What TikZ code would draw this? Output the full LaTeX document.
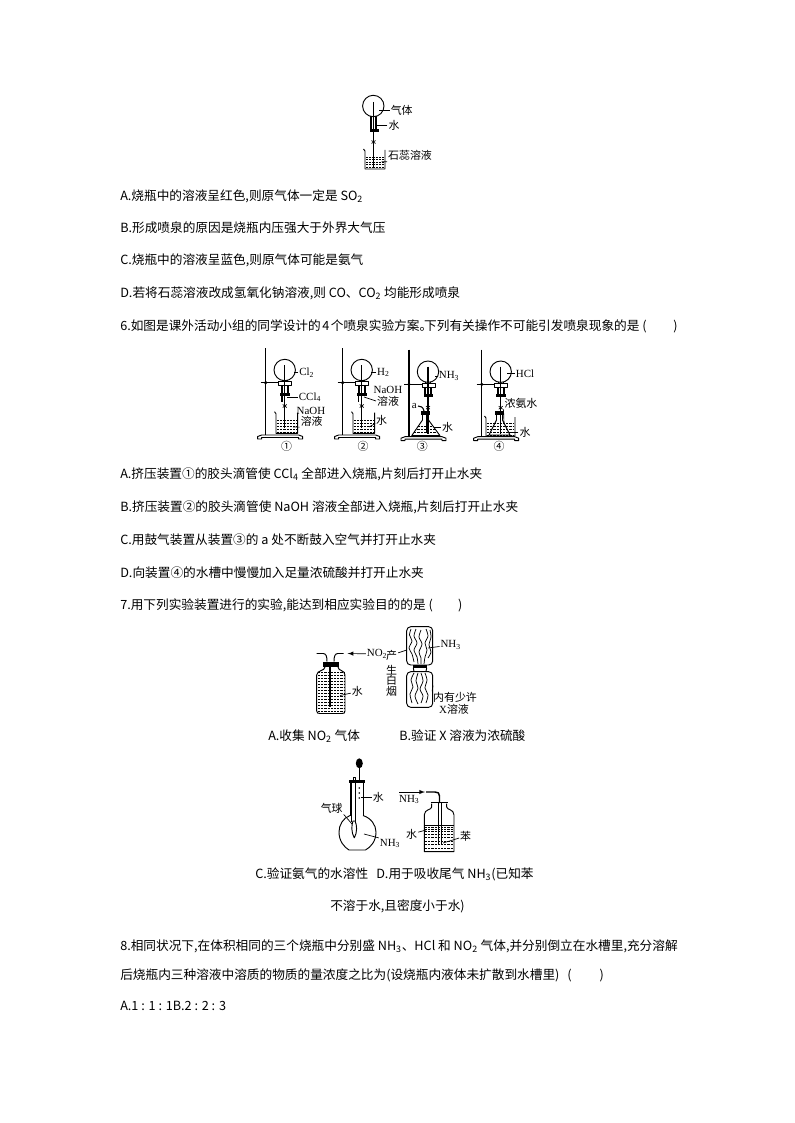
\documentclass[tikz,border=0pt]{standalone}
\usepackage{fontspec}
\setmainfont{Noto Sans CJK SC}
\newfontfamily\labelfont{Liberation Serif}
\usetikzlibrary{arrows.meta}
\tikzset{
  txt/.style={anchor=base west,inner sep=0pt,font=\fontsize{9.5}{11}\selectfont,text=black},
  lab/.style={inner sep=0.6pt,font=\fontsize{8.2}{9}\selectfont},
  chem/.style={inner sep=0.6pt,font=\fontsize{8.2}{9}\selectfont\labelfont},
  lead/.style={line width=0.5pt},
  glass/.style={line width=0.7pt},
  liquid/.style={line width=0.45pt,dash pattern=on 1.6pt off 0.8pt},
  wave/.style={line width=0.55pt},
}
\newcommand{\dn}[1]{\textsubscript{#1}}
% rows of short dashes in a vessel
\newcommand{\liquidrows}[5]{\foreach \yy in {#3,#4,...,#5} \draw[liquid] (#1,\yy) -- (#2,\yy);}
\newcommand{\beakerglass}[4]{\draw[glass] (#1-1.5,#3-1) -- (#1,#3+1) -- (#1,#4) -- (#2,#4) -- (#2,#3);}
% iron stand with the flask on it
\newcommand{\standflask}[3]{%
\begin{scope}[shift={(#1,#2)}]
  \draw[line width=1.1pt] (0,-22) -- (0,65);
  \draw[glass,fill=white] (-8,69) -- (-8,66.5) -- (-4,65) -- (33,65) -- (37,66.5) -- (37,69) -- (33,69) -- (33,67.5) -- (-4,67.5) -- (-4,69) -- cycle;
  \draw[line width=0.9pt] (-5,12.7) -- (13,12.7);
  \fill (0,12.7) circle (1.8);
  \draw[glass] (19,0) circle (10.7);
  \draw[glass] (16.5,10) -- (16.5,12) (21.5,10) -- (21.5,12);
  \draw[glass,fill=white] (13,11.5) rectangle (26,15.7);
  \draw[line width=1.4pt] (16,15.7) -- (16,23) (22,15.7) -- (22,23);
  \fill (14.5,22.5) rectangle (24,25.5);
  \draw[line width=0.9pt] (19,-5) -- (19,#3);
  \draw[lead] (17,34.5) -- (21,37.5) (21,34.5) -- (17,37.5);
\end{scope}}
\begin{document}
\begin{tikzpicture}[>=latex,line join=bevel,x=0.75pt,y=-0.75pt]
\useasboundingbox (0,0) rectangle (794,1123);
%% text lines
\node (line_0) at (120,200.5) [txt] {A.烧瓶中的溶液呈红色,则原气体一定是 SO\dn{2}};
\node (line_1) at (120,232.5) [txt] {B.形成喷泉的原因是烧瓶内压强大于外界大气压};
\node (line_2) at (120,264.5) [txt] {C.烧瓶中的溶液呈蓝色,则原气体可能是氨气};
\node (line_3) at (120,297.5) [txt] {D.若将石蕊溶液改成氢氧化钠溶液,则 CO、CO\dn{2} 均能形成喷泉};
\node (line_4) at (120,330.5) [txt] {6.如图是课外活动小组的同学设计的\hspace{-1pt} 4 \hspace{-1pt}个喷泉实验方案。\hspace{-6pt}下列有关操作不可能引发喷泉现象的是 (\hspace{20pt})};
\node (line_5) at (120,478.5) [txt] {A.挤压装置①的胶头滴管使 CCl\dn{4} 全部进入烧瓶,片刻后打开止水夹};
\node (line_6) at (120,511.5) [txt] {B.挤压装置②的胶头滴管使 NaOH 溶液全部进入烧瓶,片刻后打开止水夹};
\node (line_7) at (120,544.5) [txt] {C.用鼓气装置从装置③的 a 处不断鼓入空气并打开止水夹};
\node (line_8) at (120,577.5) [txt] {D.向装置④的水槽中慢慢加入足量浓硫酸并打开止水夹};
\node (line_9) at (120,609.5) [txt] {7.用下列实验装置进行的实验,能达到相应实验目的的是 (\hspace{19pt})};
\node (line_10) at (268,740.5) [txt] {A.收集 NO\dn{2} 气体};
\node (line_11) at (399,740.5) [txt] {B.验证 X 溶液为浓硫酸};
\node (line_12) at (255,878.5) [txt] {C.验证氨气的水溶性};
\node (line_13) at (376,878.5) [txt] {D.用于吸收尾气 NH\dn{3}(已知苯};
\node (line_14) at (330,910.5) [txt] {不溶于水,且密度小于水)};
\node (line_15) at (120,950.5) [txt] {8.相同状况下,在体积相同的三个烧瓶中分别盛 NH\dn{3}、HCl 和 NO\dn{2} 气体,并分别倒立在水槽里,充分溶解};
\node (line_16) at (120,979.5) [txt] {后烧瓶内三种溶液中溶质的物质的量浓度之比为(设烧瓶内液体未扩散到水槽里) \ \,(\hspace{21pt})};
\node (line_17) at (120,1010.5) [txt] {A.1 : 1 : 1B.2 : 2 : 3};
%% fountain on top of the page
\draw[glass] (373.3,106) circle (10.7);
\draw[line width=1.3pt] (371,116) -- (371,130) (376,116) -- (376,130);
\fill (370,129.5) rectangle (378.5,132.5);
\draw[line width=0.9pt] (373.5,102) -- (373.5,168);
\draw[lead] (371.5,140.5) -- (375.5,143.5) (375.5,140.5) -- (371.5,143.5);
\beakerglass{365}{385}{150}{169}
\liquidrows{366}{384}{157}{159.5}{168}
\node (label_gas) at (401.7,110.7) [lab] {气体};
\node (label_water0) at (394,125) [lab] {水};
\node (label_litmus) at (410,155.7) [lab] {石蕊溶液};
\coordinate (tip_gas) at (379,110.7);
\coordinate (tip_water0) at (375,125);
\coordinate (tip_litmus) at (381.7,161.7);
\draw[lead] (label_gas) -- (tip_gas);
\draw[lead] (label_water0) -- (tip_water0);
\draw[lead] (label_litmus.south west) -- (tip_litmus);
%% device 1
\standflask{265.7}{370}{58}
\beakerglass{276}{297.7}{412.7}{433.3}
\liquidrows{277}{297}{420}{423}{432}
\draw[line width=1.3pt] (282,392) -- (282,402);
\node (label_cl) at (306.7,372.7) [chem] {Cl\dn{2}};
\node (label_ccl) at (310,397.3) [chem] {CCl\dn{4}};
\node (label_naoh0) at (311,410.7) [chem] {NaOH};
\node (label_sol0) at (311.7,421) [lab] {溶液};
\node (label_one) at (286.7,446) [lab] {①};
\coordinate (tip_cl) at (294,372.7);
\coordinate (tip_ccl) at (287,397.3);
\coordinate (tip_sol0) at (293,427);
\draw[lead] (label_cl) -- (tip_cl);
\draw[lead] (label_ccl) -- (tip_ccl);
\draw[lead] (label_sol0.south west) -- (tip_sol0);
%% device 2
\standflask{342.7}{370}{58}
\beakerglass{353}{374.7}{412.7}{433.3}
\liquidrows{354}{374}{420}{423}{432}
\draw[line width=1.3pt] (358.5,392) -- (358.5,402);
\node (label_h) at (383.3,372.7) [chem] {H\dn{2}};
\node (label_naoh1) at (388,390) [chem] {NaOH};
\node (label_sol1) at (388,401) [lab] {溶液};
\node (label_water1) at (381.7,420) [lab] {水};
\node (label_two) at (363,446) [lab] {②};
\coordinate (tip_h) at (371,372.7);
\coordinate (tip_sol1) at (364,397);
\coordinate (tip_water1) at (369,427);
\draw[lead] (label_h) -- (tip_h);
\draw[lead] (label_sol1.west) -- (tip_sol1);
\draw[lead] (label_water1) -- (tip_water1);
%% device 3
\standflask{409}{371.7}{62}
\fill (421,411) rectangle (430,415);
\begin{scope}
  \clip (422.5,420) -- (411.7,435.7) -- (440,435.7) -- (428.5,420) -- cycle;
  \liquidrows{411}{441}{426}{429}{435}
\end{scope}
\draw[glass] (422.5,415) -- (422.5,420) -- (411.7,435.7) -- (440,435.7) -- (428.5,420) -- (428.5,415);
\draw[line width=0.8pt] (418,406) .. controls (421,406) and (423,407) .. (424,411);
\draw[lead] (426,415) -- (426,433);
\node (label_a) at (414.3,406) [chem] {a};
\node (label_nh0) at (449,376) [chem] {NH\dn{3}};
\node (label_water2) at (447.7,427.3) [lab] {水};
\node (label_three) at (422.3,446) [lab] {③};
\coordinate (tip_nh0) at (434.5,376);
\coordinate (tip_water2) at (434,427.3);
\draw[lead] (label_nh0) -- (tip_nh0);
\draw[lead] (label_water2) -- (tip_water2);
%% device 4
\standflask{481.7}{371.7}{62}
\beakerglass{486}{515}{417}{436}
\liquidrows{487}{514}{423}{426}{435}
\fill (495,411) rectangle (503.5,415);
\draw[glass] (496.5,415) -- (496.5,420) -- (489,435) -- (510,435) -- (502.5,420) -- (502.5,415);
\node (label_hcl) at (525,373.3) [chem] {HCl};
\node (label_conc) at (521,403.3) [lab] {浓氨水};
\node (label_water3) at (525,432.7) [lab] {水};
\node (label_four) at (499,446) [lab] {④};
\coordinate (tip_hcl) at (507,373.3);
\coordinate (tip_conc) at (504,424);
\coordinate (tip_water3) at (512,432.7);
\draw[lead] (label_hcl) -- (tip_hcl);
\draw[lead] (label_conc.south west) -- (tip_conc);
\draw[lead] (label_water3) -- (tip_water3);
%% gas bottle with water
\draw[glass] (325,667) .. controls (325,671) and (317,670) .. (316.7,675) -- (316.7,711) .. controls (316.7,713) and (318,713.5) .. (320,713.5) -- (342,713.5) .. controls (344,713.5) and (345,713) .. (345,711) -- (345,675) .. controls (345,670) and (338,671) .. (338,667);
\fill (322.7,661.7) rectangle (339.3,666.7);
\draw[glass] (316.7,653.5) -- (323,653.5) .. controls (326,653.5) and (327,656) .. (327,661.7);
\draw[glass] (343.5,653.5) -- (338,653.5) .. controls (335,653.5) and (334,656) .. (334,661.7);
\draw[glass] (329,666.7) -- (329,706.5) -- (330.5,706.5) -- (330.5,666.7);
\liquidrows{318}{344}{672}{675}{711}
\node (label_no) at (377,654) [chem] {NO\dn{2}};
\node (label_water4) at (357.3,691.7) [lab] {水};
\coordinate (tip_no) at (347.7,653.5);
\coordinate (tip_water4) at (340,695.5);
\draw[->,lead] (label_no) -- (tip_no);
\draw[lead] (label_water4) -- (tip_water4);
%% two bottles with white smoke
\draw[glass,rounded corners=3pt] (406.7,665) -- (406.7,626.7) -- (432.7,626.7) -- (432.7,665) -- cycle;
\draw[glass,rounded corners=3pt] (406.7,671.7) -- (432.7,671.7) -- (432.7,707.3) -- (406.7,707.3) -- cycle;
\fill (413.3,665) rectangle (426.7,667.7);
\draw[glass] (413.3,667.7) -- (414,671.7) (426.7,667.7) -- (426,671.7);
\draw[wave] plot[smooth] coordinates {(411,629) (409.5,635) (412,641) (409,648) (412,654) (414,662)};
\draw[wave] plot[smooth] coordinates {(416,629) (414,636) (417,643) (414,650) (417,657) (418,664)};
\draw[wave] plot[smooth] coordinates {(421,630) (419,637) (422,644) (419,652) (421,658) (421,664)};
\draw[wave] plot[smooth] coordinates {(426,629) (428,636) (425,643) (427,650) (425,657) (424,664)};
\draw[wave] plot[smooth] coordinates {(430,630) (431,637) (429,645) (431,652) (428,658)};
\draw[wave] plot[smooth] coordinates {(414,673) (411,680) (413,687) (410,694) (412,703)};
\draw[wave] plot[smooth] coordinates {(418,673) (416,681) (418,688) (415,696) (418,704)};
\draw[wave] plot[smooth] coordinates {(421,673) (423,681) (420,689) (423,696) (421,703)};
\draw[wave] plot[smooth] coordinates {(425,673) (427,680) (425,688) (428,695) (426,703)};
\node (label_product) at (391.7,655) [lab] {产};
\node (label_sheng) at (391.7,670) [lab] {生};
\node (label_bai) at (391.7,680.7) [lab] {白};
\node (label_yan) at (391.7,691.7) [lab] {烟};
\node (label_nh1) at (450.7,645) [chem] {NH\dn{3}};
\node (label_few) at (455,697.3) [lab] {内有少许};
\node (label_x) at (454,709) [lab] {{\labelfont X}溶液};
\coordinate (tip_product) at (406.7,650);
\coordinate (tip_nh1) at (428,648);
\coordinate (tip_few) at (433,685.7);
\draw[lead] (label_product) -- (tip_product);
\draw[lead] (label_nh1) -- (tip_nh1);
\draw[lead] (label_few.north west) -- (tip_few);
%% round flask with balloon
\fill (359.3,763.3) ellipse (3.5 and 5);
\draw[line width=0.9pt] (359.3,768) -- (359.3,780);
\fill (349.3,780) rectangle (365,783.3);
\draw[glass] (353,777) rectangle (355,780);
\draw[glass] (350,783.3) -- (350,815.5);
\draw[glass] (363,783.3) -- (363,815.5);
\draw[glass] (350,815.5) .. controls (343,818) and (339,825) .. (339,832) .. controls (339,841) and (344,847) .. (349,850) -- (365.5,850) .. controls (371,847) and (376,841) .. (376,832) .. controls (376,825) and (371,818) .. (363,815.5);
\draw[glass] (351,783.3) -- (351,822) (355,783.3) -- (355,822);
\draw[glass,fill=white] (354.3,838) .. controls (351,832) and (351.5,825) .. (353,821) -- (355,821) .. controls (357,825) and (357.5,832) .. (354.3,838);
\foreach \yy in {788,793,798} \fill (359.3,\yy) circle (0.9);
\node (label_water5) at (378.3,797.3) [lab] {水};
\node (label_balloon) at (331.7,808.3) [lab] {气球};
\node (label_nh2) at (390,843.3) [chem] {NH\dn{3}};
\coordinate (tip_water5) at (360.5,797.3);
\coordinate (tip_balloon) at (352,824);
\coordinate (tip_nh2) at (364,834);
\draw[lead] (label_water5) -- (tip_water5);
\draw[lead] (label_balloon.south east) -- (tip_balloon);
\draw[lead] (label_nh2.north west) -- (tip_nh2);
%% bottle with water and benzene
\draw[glass] (431.7,803.5) -- (431.7,807) .. controls (431.7,810) and (424.3,809) .. (424.3,815) -- (424.3,851.7) -- (454,851.7) -- (454,815) .. controls (454,809) and (446.7,810) .. (446.7,807) -- (446.7,803.5);
\draw[line width=1pt] (430.7,802.5) -- (448.3,802.5);
\draw[line width=1.1pt] (426,792) -- (435,792) .. controls (438,792) and (439.5,793) .. (439.5,796) -- (439.5,803);
\draw[glass] (438,803) -- (438,845) (441,803) -- (441,845);
\draw[glass] (424.3,825) -- (454,825);
\liquidrows{425}{453}{827}{829}{831}
\liquidrows{425}{453}{834}{837.5}{851}
\node (label_nh3) at (409.3,799.3) [chem] {NH\dn{3}};
\node (label_water6) at (411.7,834) [lab] {水};
\node (label_benzene) at (465.7,836) [lab] {苯};
\coordinate (arrow_start) at (399.3,792);
\coordinate (arrow_end) at (425,792);
\coordinate (tip_water6) at (426,830);
\coordinate (tip_benzene) at (443,843);
\draw[->,lead] (arrow_start) -- (arrow_end);
\draw[lead] (label_water6) -- (tip_water6);
\draw[lead] (label_benzene) -- (tip_benzene);
%
\end{tikzpicture}
\end{document}
